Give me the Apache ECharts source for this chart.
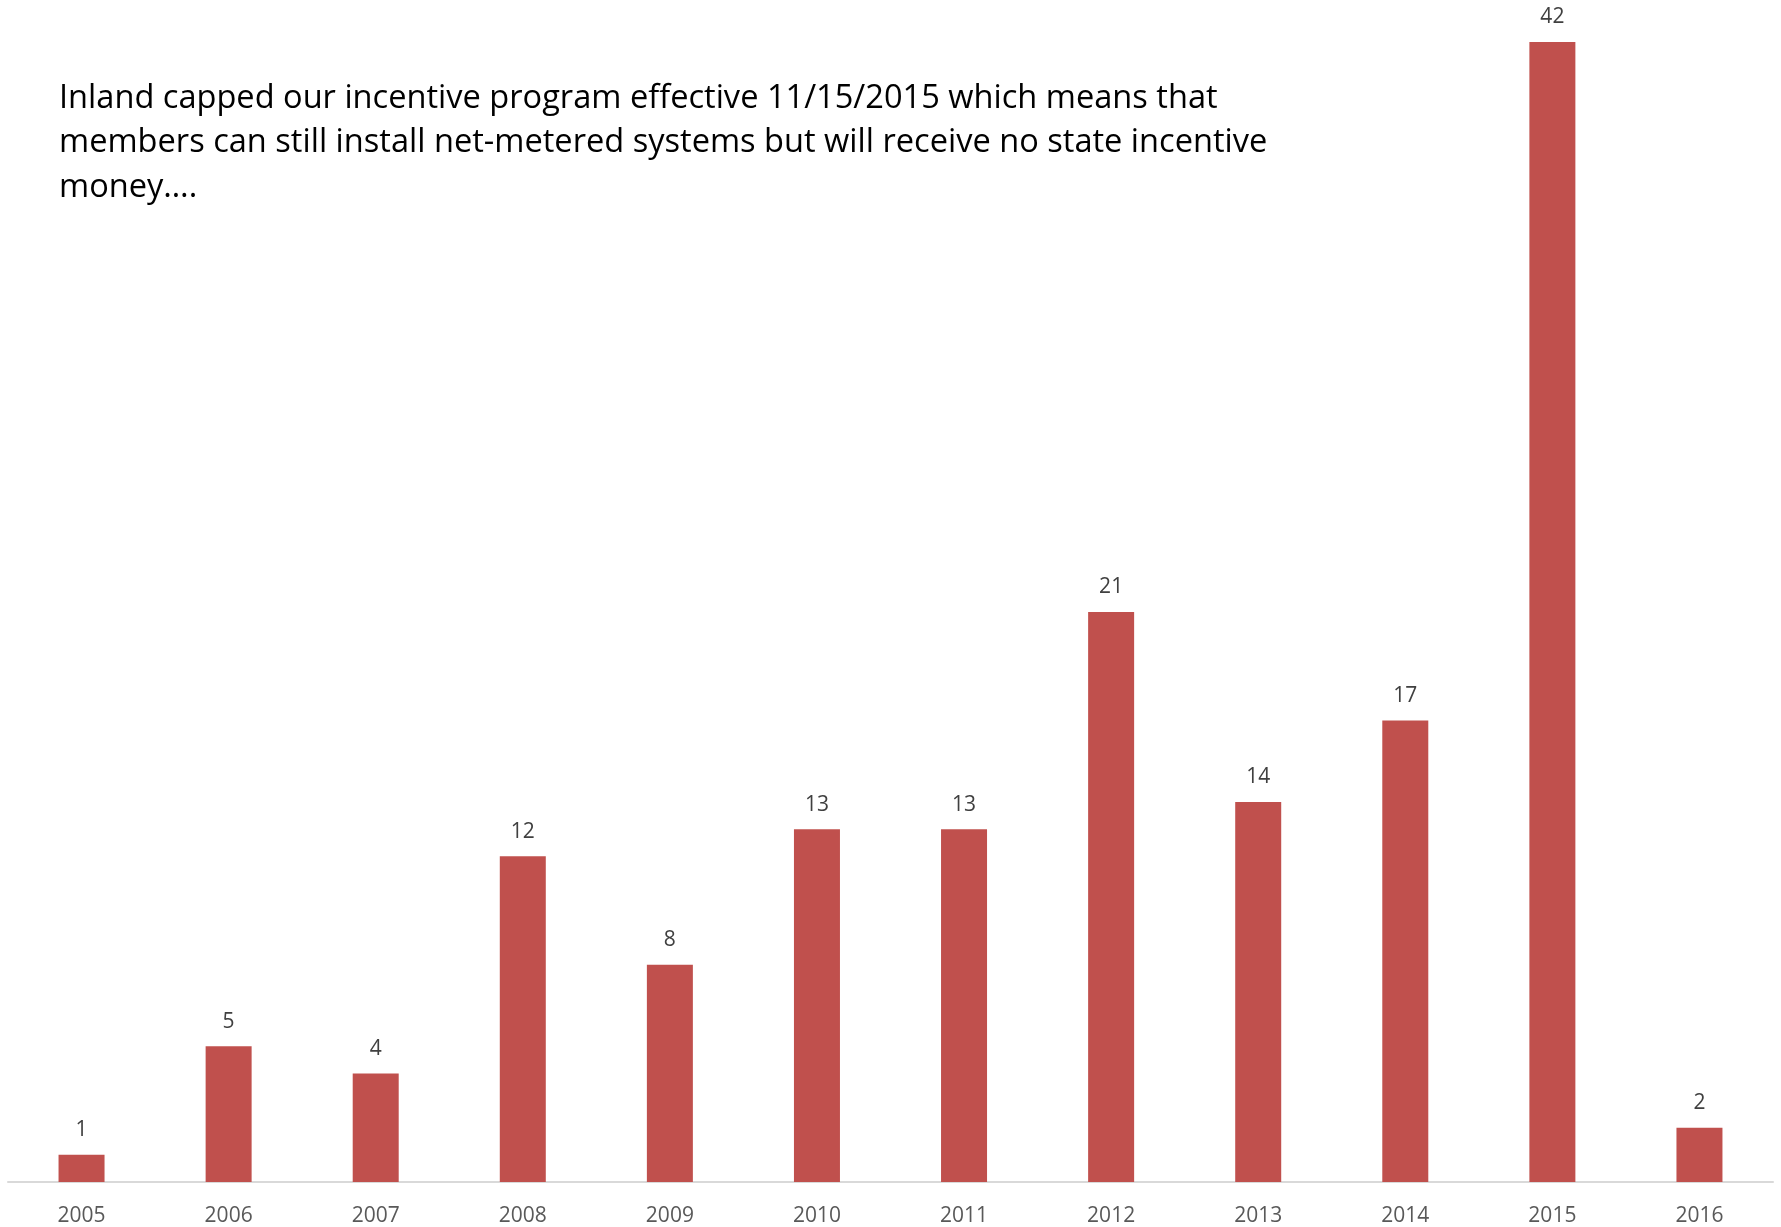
<!DOCTYPE html>
<html><head><meta charset="utf-8">
<script src="https://cdn.jsdelivr.net/npm/echarts@6/dist/echarts.min.js"></script>
<style>html,body{margin:0;padding:0;background:#fff}#c{width:1781px;height:1227px}</style>
</head><body><div id="c"></div>
<script>
const categories = ['2005','2006','2007','2008','2009','2010','2011','2012','2013','2014','2015','2016'];
const values = [1,5,4,12,8,13,13,21,14,17,42,2];
const titleText = 'Inland capped our incentive program effective 11/15/2015 which means that\nmembers can still install net-metered systems but will receive no state incentive\nmoney….';

const chart = echarts.init(document.getElementById('c'));
chart.setOption({
  backgroundColor: '#ffffff',
  animation: false,
  title: {
    text: titleText,
    left: 59, top: 76, padding: 0,
    textStyle: { fontFamily: 'Open Sans', fontWeight: 'normal', fontSize: 32.6, lineHeight: 44.5, color: '#000000' }
  },
  grid: { left: 8, right: 8, top: 42, bottom: 43, containLabel: false },
  xAxis: {
    type: 'category', data: categories,
    axisLine: { show: true, lineStyle: { color: '#D9D9D9', width: 2 } },
    axisTick: { show: false },
    axisLabel: { color: '#595959', fontSize: 21, fontFamily: 'Open Sans', margin: 24 }
  },
  yAxis: { type: 'value', min: 0, max: 42, show: false, splitLine: { show: false } },
  series: [{
    type: 'bar', data: values, barWidth: 46,
    itemStyle: { color: '#C0504D' },
    label: { show: true, position: 'top', distance: 14, color: '#404040', fontSize: 21, fontFamily: 'Open Sans' }
  }]
});
</script></body></html>
